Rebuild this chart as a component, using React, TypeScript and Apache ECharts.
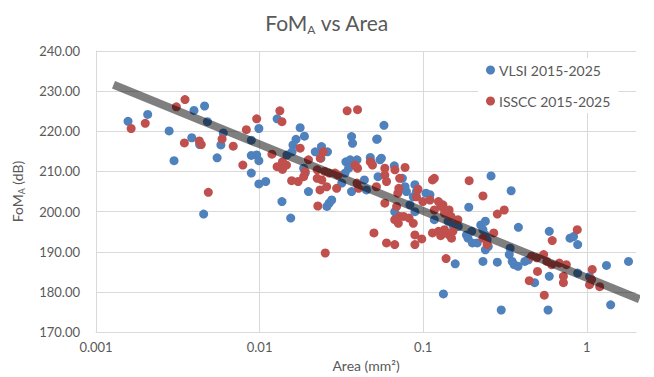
import React, { useEffect, useRef } from "react";
import * as echarts from "echarts";

const TITLE_MAIN = "FoM";
const TITLE_SUB = "A";
const TITLE_REST = " vs Area";
const X_NAME = "Area (mm²)";
const SERIES_NAMES = ["VLSI 2015-2025", "ISSCC 2015-2025"];
const Y_TICKS = [170, 180, 190, 200, 210, 220, 230, 240];

// [area (mm²), FoM_A (dB)]
const vlsiPoints: [number, number][] = [
  [0.00157, 222.5], [0.00207, 224.2], [0.0028, 220.1], [0.003, 212.7], [0.00397, 225.2],
  [0.00461, 226.3], [0.0048, 222.4], [0.00385, 218.4], [0.0043, 216.7], [0.006, 219.6],
  [0.0058, 216.6], [0.0055, 213.4], [0.00455, 199.4], [0.0099, 220.7], [0.0089, 217.8],
  [0.0089, 214.0], [0.0096, 214.1], [0.0099, 212.7], [0.0089, 209.6], [0.0128, 223.1],
  [0.0099, 206.9], [0.0109, 207.5], [0.0137, 202.5], [0.0177, 220.9], [0.0188, 218.8],
  [0.016, 216.6], [0.0167, 218.0], [0.0158, 214.9], [0.0147, 214.1], [0.0186, 210.8],
  [0.019, 209.6], [0.0199, 205.0], [0.0219, 214.9], [0.0239, 216.2], [0.0243, 214.9],
  [0.026, 214.9], [0.0237, 213.3], [0.0266, 202.1], [0.0276, 202.9], [0.0258, 201.3],
  [0.0365, 218.7], [0.037, 217.0], [0.052, 218.0], [0.0337, 212.4], [0.0358, 212.9],
  [0.0394, 212.9], [0.0374, 211.6], [0.0545, 212.9], [0.035, 210.8], [0.0333, 209.6],
  [0.0365, 205.0], [0.0576, 221.5], [0.0524, 218.1], [0.0475, 213.5], [0.0555, 213.3],
  [0.048, 212.4], [0.0666, 211.4], [0.053, 208.7], [0.0746, 208.3], [0.0775, 206.2],
  [0.079, 205.0], [0.089, 206.7], [0.091, 205.0], [0.087, 203.7], [0.104, 204.6],
  [0.11, 204.2], [0.0318, 207.1], [0.0437, 207.9], [0.045, 205.4], [0.26, 208.9],
  [0.19, 201.1], [0.069, 198.8], [0.067, 200.0], [0.083, 201.7], [0.089, 200.0],
  [0.117, 198.0], [0.142, 197.6], [0.152, 196.7], [0.164, 196.3], [0.184, 194.2],
  [0.188, 193.4], [0.198, 195.1], [0.225, 196.7], [0.24, 197.6], [0.232, 195.5],
  [0.24, 194.2], [0.246, 193.0], [0.214, 192.2], [0.24, 190.5], [0.25, 191.3],
  [0.0155, 198.4], [0.133, 179.5], [0.345, 205.2], [0.382, 196.1], [0.2, 192.2],
  [0.232, 187.6], [0.284, 187.4], [0.336, 189.3], [0.35, 187.6], [0.36, 186.8],
  [0.38, 186.4], [0.34, 190.9], [0.418, 187.6], [0.44, 188.0], [0.48, 182.3],
  [0.59, 195.1], [0.59, 183.9], [0.3, 175.5], [0.58, 175.5], [0.79, 193.4],
  [0.83, 193.8], [0.88, 191.8], [0.88, 184.7], [1.04, 183.8], [1.32, 186.6],
  [1.8, 187.6], [1.4, 176.8], [0.157, 187.0],
];

const isscPoints: [number, number][] = [
  [0.00164, 220.7], [0.002, 222.0], [0.0031, 226.1], [0.0035, 227.9], [0.00347, 217.1],
  [0.00428, 217.6], [0.0044, 216.7], [0.0059, 218.1], [0.0069, 216.3], [0.00486, 204.8],
  [0.0083, 220.4], [0.0079, 211.6], [0.0096, 223.1], [0.0119, 214.3], [0.0128, 211.2],
  [0.0133, 225.1], [0.0137, 222.4], [0.0177, 215.8], [0.0138, 212.4], [0.0138, 210.5],
  [0.0146, 211.6], [0.0199, 212.9], [0.019, 210.0], [0.0186, 208.7], [0.0172, 207.5],
  [0.0157, 207.7], [0.0245, 214.9], [0.0235, 213.3], [0.0225, 210.4], [0.025, 210.0],
  [0.0266, 209.6], [0.0289, 209.6], [0.0302, 209.1], [0.0225, 208.3], [0.024, 207.9],
  [0.0234, 205.4], [0.0296, 205.8], [0.0257, 206.2], [0.0227, 201.4], [0.0343, 225.1],
  [0.0397, 225.4], [0.0383, 211.6], [0.0397, 210.8], [0.0475, 212.4], [0.049, 211.6],
  [0.0394, 207.1], [0.0403, 205.8], [0.0518, 206.2], [0.0583, 210.8], [0.0672, 210.4],
  [0.0775, 211.0], [0.0583, 209.1], [0.0597, 207.5], [0.0718, 208.3], [0.071, 205.8],
  [0.07, 204.6], [0.093, 205.6], [0.091, 203.7], [0.114, 207.9], [0.117, 208.3],
  [0.132, 201.7], [0.124, 202.5], [0.0583, 202.1], [0.0688, 201.3], [0.0995, 202.5],
  [0.11, 202.9], [0.191, 207.7], [0.232, 203.9], [0.117, 200.4], [0.128, 201.3],
  [0.135, 199.6], [0.144, 200.4], [0.148, 198.8], [0.163, 198.0], [0.067, 198.0],
  [0.0705, 197.1], [0.076, 198.8], [0.082, 198.4], [0.087, 197.1], [0.072, 198.8],
  [0.114, 194.7], [0.124, 195.1], [0.128, 194.0], [0.135, 195.5], [0.144, 194.2],
  [0.152, 195.1], [0.149, 193.4], [0.232, 193.4], [0.246, 191.8], [0.05, 194.7],
  [0.0597, 192.2], [0.067, 191.8], [0.089, 194.2], [0.089, 191.8], [0.098, 193.2],
  [0.138, 188.3], [0.0252, 189.7], [0.284, 199.4], [0.313, 200.4], [0.27, 194.7],
  [0.46, 188.9], [0.495, 188.5], [0.545, 189.3], [0.57, 187.6], [0.61, 186.8],
  [0.68, 187.2], [0.75, 186.8], [0.5, 185.1], [0.445, 182.8], [0.615, 192.8],
  [0.55, 179.2], [0.875, 195.5], [0.72, 183.9], [0.72, 182.3], [1.08, 185.6],
  [1.07, 183.1], [1.04, 181.8], [1.2, 181.3],
];

// Trend line endpoints (area, FoM_A)
const trendPoints: [number, number][] = [
  [0.00128, 231.6],
  [2.1, 178.2],
];

const FONT = "Lato, 'Open Sans', sans-serif";
const TEXT_COLOR = "#595959";
const GRID_COLOR = "#d9d9d9";

export default function App() {
  const ref = useRef<HTMLDivElement>(null);

  useEffect(() => {
    if (!ref.current) return;
    const chart = echarts.init(ref.current, null, { renderer: "svg" });
    chart.setOption({
      animation: false,
      backgroundColor: "#ffffff",
      textStyle: { fontFamily: FONT },
      title: {
        text: `{a|${TITLE_MAIN}}{s|${TITLE_SUB}}{a|${TITLE_REST}}`,
        left: "center",
        top: 5,
        textStyle: {
          fontWeight: "normal",
          rich: {
            a: { fontSize: 21, color: TEXT_COLOR, fontFamily: FONT, fontWeight: "normal" },
            s: { fontSize: 12, color: TEXT_COLOR, fontFamily: FONT, fontWeight: "normal", padding: [13, 0, 0, 0] },
          },
        },
      },
      legend: {
        orient: "vertical",
        left: 478,
        top: 58,
        itemGap: 17,
        itemWidth: 9,
        itemHeight: 9,
        icon: "circle",
        backgroundColor: "#ffffff",
        padding: [5, 8, 5, 8],
        data: SERIES_NAMES,
        textStyle: { fontSize: 14, color: TEXT_COLOR, fontFamily: FONT, padding: [0, 0, 0, -1] },
      },
      grid: { left: 96, right: 18, top: 51, bottom: 44, containLabel: false },
      xAxis: {
        type: "log",
        logBase: 10,
        min: 0.001,
        max: 2,
        name: X_NAME,
        nameLocation: "middle",
        nameGap: 16,
        nameTextStyle: { fontSize: 14, color: TEXT_COLOR, fontFamily: FONT },
        axisLine: { show: true, lineStyle: { color: GRID_COLOR } },
        axisTick: { show: false },
        axisLabel: {
          color: TEXT_COLOR,
          fontSize: 13,
          margin: 8,
          showMaxLabel: false,
          formatter: (v: number) => {
            const l = Math.log10(v);
            return Math.abs(l - Math.round(l)) < 1e-6 ? String(+v.toPrecision(6)) : "";
          },
        },
        splitLine: { show: true, showMaxLine: false, lineStyle: { color: GRID_COLOR } },
      },
      yAxis: {
        type: "value",
        min: Y_TICKS[0],
        max: Y_TICKS[Y_TICKS.length - 1],
        interval: 10,
        name: `{a|${TITLE_MAIN}}{s|${TITLE_SUB}}{a| (dB)}`,
        nameLocation: "middle",
        nameRotate: 90,
        nameGap: 70,
        nameTextStyle: {
          rich: {
            a: { fontSize: 14, color: TEXT_COLOR, fontFamily: FONT },
            s: { fontSize: 9, color: TEXT_COLOR, fontFamily: FONT, padding: [8, 0, 0, 0] },
          },
        },
        axisLine: { show: true, lineStyle: { color: GRID_COLOR } },
        axisTick: { show: false },
        axisLabel: {
          color: TEXT_COLOR,
          fontSize: 13,
          margin: 16,
          formatter: (v: number) => v.toFixed(2),
        },
        splitLine: { show: true, lineStyle: { color: GRID_COLOR } },
      },
      series: [
        {
          name: SERIES_NAMES[0],
          type: "scatter",
          data: vlsiPoints,
          symbol: "circle",
          symbolSize: 9,
          itemStyle: { color: "#4F81BD", opacity: 1 },
          z: 2,
        },
        {
          name: SERIES_NAMES[1],
          type: "scatter",
          data: isscPoints,
          symbol: "circle",
          symbolSize: 9,
          itemStyle: { color: "#C0504D", opacity: 1 },
          z: 3,
        },
        {
          name: "trend",
          type: "line",
          data: trendPoints,
          showSymbol: false,
          symbol: "none",
          clip: false,
          lineStyle: { color: "rgba(0,0,0,0.5)", width: 8, cap: "butt" },
          z: 4,
          silent: true,
        },
      ],
    });
    return () => chart.dispose();
  }, []);

  return (
    <div
      ref={ref}
      style={{ position: "fixed", left: 0, top: 0, width: 654, height: 377 }}
    />
  );
}
